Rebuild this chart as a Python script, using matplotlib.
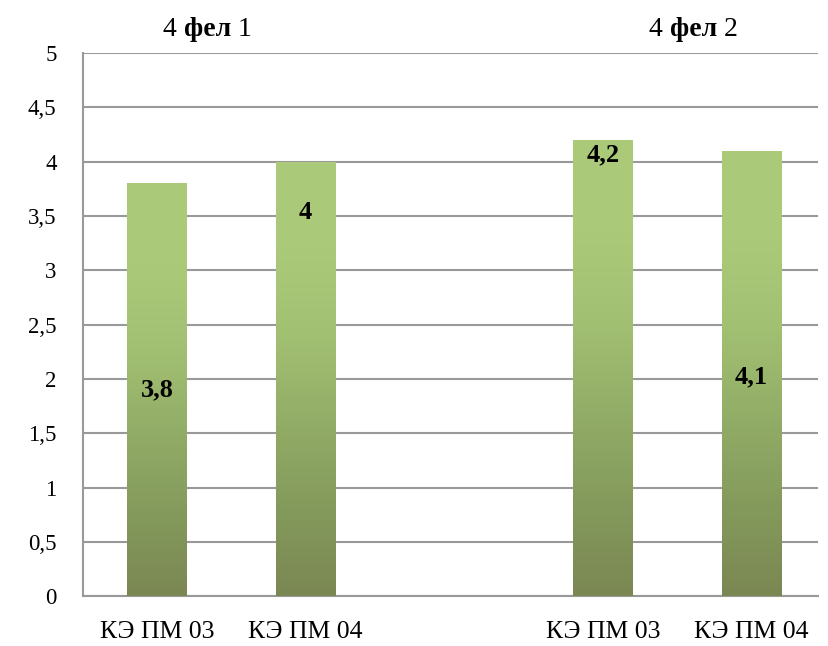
import numpy as np
import matplotlib.pyplot as plt
from matplotlib.colors import LinearSegmentedColormap

# Data
categories = ['КЭ ПМ 03', 'КЭ ПМ 04', 'КЭ ПМ 03', 'КЭ ПМ 04']
values = [3.8, 4.0, 4.2, 4.1]
value_labels = ['3,8', '4', '4,2', '4,1']
group_titles = ['1', '2']

# positions (slot 2 is empty, gap between the groups)
x_pos = [0, 1, 3, 4]
label_y = [1.9, 3.53, 4.06, 2.02]
title_x = [0.04, 3.31]

FAM = ['Liberation Serif', 'DejaVu Serif']
plt.rcParams['font.family'] = FAM

fig = plt.figure(figsize=(8.29, 6.46), dpi=100)
ax = fig.add_axes([0.100, 0.077, 0.887, 0.841])

bars = ax.bar(x_pos, values, width=0.4, color='none', edgecolor='none', zorder=3)

# vertical gradient, light green on top, olive at the bottom
cmap = LinearSegmentedColormap.from_list(
    'grn', ['#7b8753', '#849a5c', '#92ad67', '#a2c072', '#abca79', '#abca79'])
grad = np.linspace(0, 1, 256).reshape(-1, 1)
for b in bars:
    x0, y0 = b.get_x(), b.get_y()
    im = ax.imshow(grad, cmap=cmap, origin='lower', aspect='auto',
                   extent=[x0, x0 + b.get_width(), y0, y0 + b.get_height()],
                   zorder=3)
    im.set_clip_path(b)

for xp, ly, txt in zip(x_pos, label_y, value_labels):
    ax.text(xp, ly, txt, ha='center', va='center', fontsize=19,
            fontweight='bold', family=FAM, zorder=4)

ax.set_xlim(-0.5, 4.45)
ax.set_ylim(0, 5)
yt = np.arange(0, 5.01, 0.5)
ax.set_yticks(yt)
ax.set_yticklabels([f'{v:g}'.replace('.', ',') for v in yt],
                   fontsize=16.5, family=FAM)
ax.set_xticks(x_pos)
ax.set_xticklabels(categories, fontsize=18.5, family=FAM)
ax.tick_params(axis='y', length=0, pad=19)
ax.tick_params(axis='x', length=0, pad=18)

ax.grid(axis='y', color='#999999', linewidth=1.5, zorder=0)
ax.set_axisbelow(True)
for s in ['top', 'right']:
    ax.spines[s].set_visible(False)
for s in ['left', 'bottom']:
    ax.spines[s].set_color('#999999')
    ax.spines[s].set_linewidth(1.5)

# group titles: "4 фел N" with the word in bold
for tx, num in zip(title_x, group_titles):
    t1 = ax.text(tx, 5.22, '4 ', fontsize=20, ha='left', va='center',
                 family=FAM, clip_on=False)
    t2 = ax.annotate('фел', xy=(1, 0), xycoords=t1, fontsize=20,
                     fontweight='bold', family=FAM, va='bottom', ha='left')
    ax.annotate(' ' + num, xy=(1, 0), xycoords=t2, fontsize=20,
                family=FAM, va='bottom', ha='left')

fig.savefig('out.png', dpi=100)
